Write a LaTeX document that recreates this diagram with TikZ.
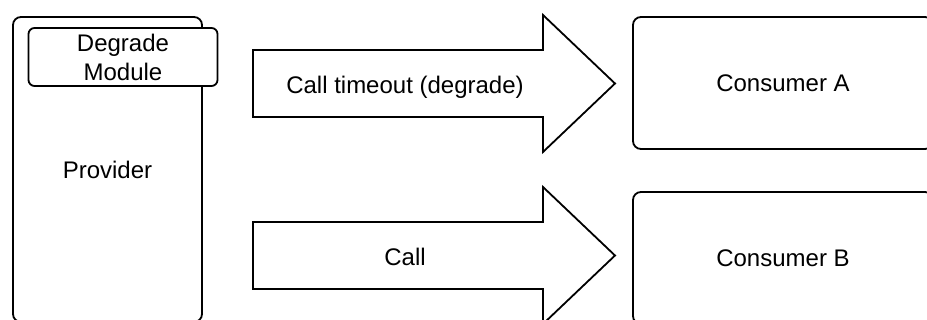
\documentclass[tikz,border=0pt]{standalone}
\usepackage{fontspec}
\setmainfont{Liberation Sans}
\usetikzlibrary{positioning}

\begin{document}
\begin{tikzpicture}[x=1pt,y=-1pt,line width=1.8pt]

    \tikzset{boxstyle/.style={draw,rounded corners=8pt,fill=white,inner sep=0pt,font=\fontsize{24}{29}\selectfont}}
    \tikzset{blockarrow/.style={draw,line join=miter}}
    \tikzset{labelstyle/.style={inner sep=0pt,font=\fontsize{24}{29}\selectfont}}

    \useasboundingbox (0,0) rectangle (927,320);

    \node[boxstyle,minimum width=189pt,minimum height=305pt] (prov) at (107.5,169.5) {Provider};
    \node[boxstyle,rounded corners=6pt,minimum width=189pt,minimum height=58pt,align=center] (degrade) at (123,57) {Degrade\\Module};

    \node[boxstyle,minimum width=300pt,minimum height=132pt] (consA) at (783,83) {Consumer A};
    \node[boxstyle,minimum width=300pt,minimum height=132pt] (consB) at (783,258) {Consumer B};

    % ends of the two big arrows
    \coordinate (tailA) at (253,83.5);
    \coordinate (tipA) at (615,83.5);
    \coordinate (tailB) at (253,255.5);
    \coordinate (tipB) at (615,255.5);

    \draw[blockarrow] ([yshift=33.5pt]tailA) -- ([xshift=-72pt,yshift=33.5pt]tipA)
        -- ([xshift=-72pt,yshift=68.5pt]tipA) -- (tipA)
        -- ([xshift=-72pt,yshift=-68.5pt]tipA) -- ([xshift=-72pt,yshift=-33.5pt]tipA)
        -- ([yshift=-33.5pt]tailA) -- cycle;
    \draw[blockarrow] ([yshift=33.5pt]tailB) -- ([xshift=-72pt,yshift=33.5pt]tipB)
        -- ([xshift=-72pt,yshift=68.5pt]tipB) -- (tipB)
        -- ([xshift=-72pt,yshift=-68.5pt]tipB) -- ([xshift=-72pt,yshift=-33.5pt]tipB)
        -- ([yshift=-33.5pt]tailB) -- cycle;

    \node[labelstyle] (callA) at (405,87) {Call timeout (degrade)};
    \node[labelstyle] (callB) at (405,256.5) {Call};

\end{tikzpicture}
\end{document}
